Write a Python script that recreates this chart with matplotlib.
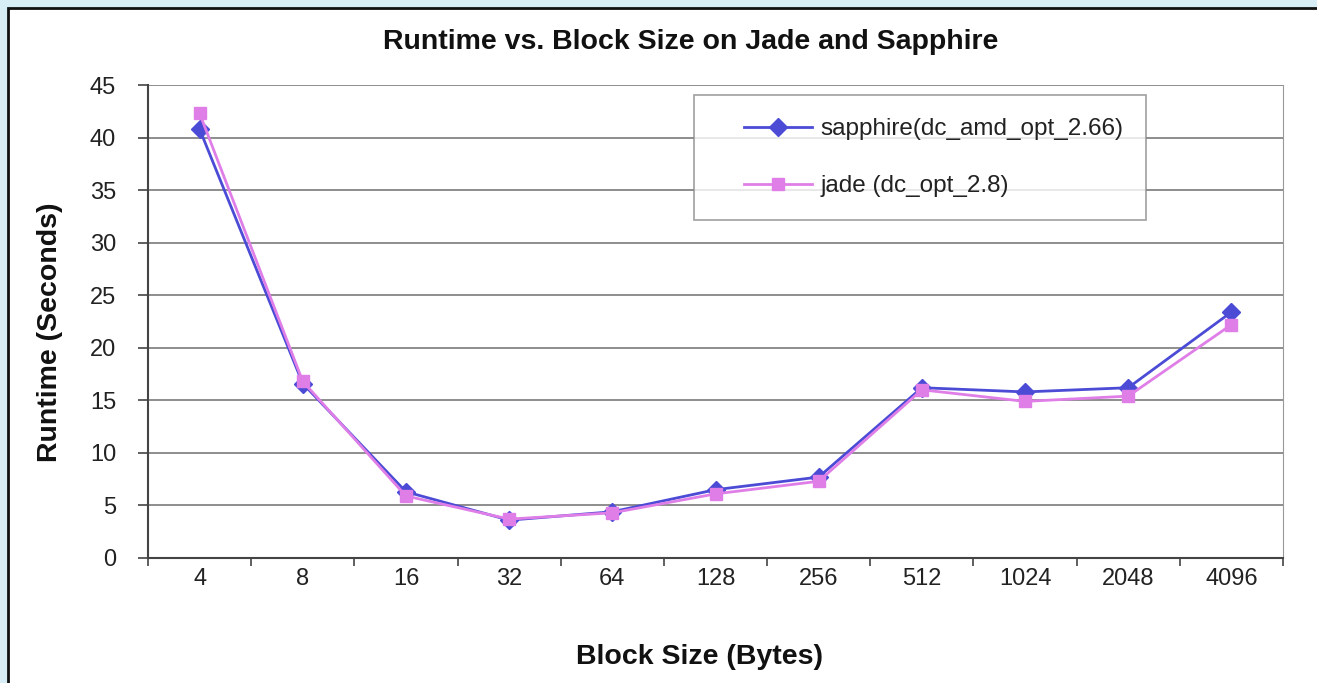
import matplotlib
matplotlib.use("Agg")
import matplotlib.pyplot as plt
from matplotlib.patches import Rectangle
from matplotlib.lines import Line2D
from matplotlib.legend_handler import HandlerLine2D
import numpy as np

block_sizes = ["4", "8", "16", "32", "64", "128", "256", "512", "1024", "2048", "4096"]
sapphire = [40.8, 16.6, 6.3, 3.6, 4.4, 6.5, 7.7, 16.2, 15.8, 16.2, 23.4]
jade = [42.3, 16.8, 5.9, 3.7, 4.3, 6.1, 7.3, 16.0, 14.9, 15.4, 22.2]
sapphire_label = "sapphire(dc_amd_opt_2.66)"
jade_label = "jade (dc_opt_2.8)"

plt.rcParams['font.family'] = ['Liberation Sans', 'DejaVu Sans']

W, H = 1317, 683
fig = plt.figure(figsize=(W / 100, H / 100), dpi=100)
fig.patch.set_facecolor("#d8eef6")
fig.patches.append(Rectangle((8 / W, -0.1), 1.2, (H - 8) / H + 0.1,
                             transform=fig.transFigure, facecolor="white",
                             edgecolor="#111111", linewidth=2, zorder=-5))

ax = fig.add_axes([148 / W, (H - 558) / H, 1135 / W, (558 - 85) / H])
ax.set_zorder(2)
ax.set_facecolor("white")
x = np.arange(len(block_sizes))

c_s = "#4b4bd6"
c_j = "#e07ee8"
ax.plot(x, sapphire, color=c_s, lw=2, marker="D", ms=9, mfc=c_s, mec=c_s, zorder=3)
ax.plot(x, jade, color=c_j, lw=2, marker="s", ms=9, mfc=c_j, mec=c_j, zorder=4)

ax.set_xlim(-0.5, len(block_sizes) - 0.5)
ax.set_ylim(0, 45)
ax.set_yticks(np.arange(0, 46, 5))
ax.set_xticks(x)
ax.set_xticklabels(block_sizes)
ax.set_xticks(np.arange(-0.5, len(block_sizes)), minor=True)
ax.tick_params(axis="x", which="major", length=0, pad=7, labelsize=17, colors="#222222")
ax.tick_params(axis="x", which="minor", length=6, width=1.2, color="#444444", direction="out")
ax.tick_params(axis="y", length=7, width=1.2, color="#444444", labelsize=17, pad=16,
               labelcolor="#222222")
ax.yaxis.grid(True, color="#858585", lw=1.3)
ax.set_axisbelow(True)
ax.spines["top"].set_visible(False)
ax.spines["right"].set_color("#999999")
ax.spines["left"].set_color("#444444")
ax.spines["left"].set_linewidth(1.5)
ax.spines["bottom"].set_color("#444444")
ax.spines["bottom"].set_linewidth(1.5)

fig.text(691 / W, 1 - 42 / H, "Runtime vs. Block Size on Jade and Sapphire",
         ha="center", va="center", fontsize=20.5, fontweight="bold", color="#111111")
fig.text(700 / W, 1 - 657 / H, "Block Size (Bytes)", ha="center", va="center",
         fontsize=20.5, fontweight="bold", color="#111111")
fig.text(50 / W, 1 - 332 / H, "Runtime (Seconds)", ha="center", va="center",
         rotation=90, fontsize=20.5, fontweight="bold", color="#111111")

handles = [Line2D([], [], color=c_s, lw=2, marker="D", ms=9, mfc=c_s, mec=c_s),
           Line2D([], [], color=c_j, lw=2, marker="s", ms=9, mfc=c_j, mec=c_j)]
leg = ax.legend(handles, [sapphire_label, jade_label],
                loc="upper left", bbox_to_anchor=((694 - 148) / 1135, (558 - 95) / 473),
                frameon=True, fancybox=False, fontsize=17.5, handlelength=3.9,
                borderpad=0.95, labelspacing=1.45, handletextpad=0.35,
                borderaxespad=0,
                handler_map={Line2D: HandlerLine2D(xpad=1.1)})
leg.get_frame().set_edgecolor("#888888")
leg.get_frame().set_linewidth(1.2)
for t in leg.get_texts():
    t.set_color("#222222")

fig.savefig("out.png", dpi=100, facecolor=fig.get_facecolor())
